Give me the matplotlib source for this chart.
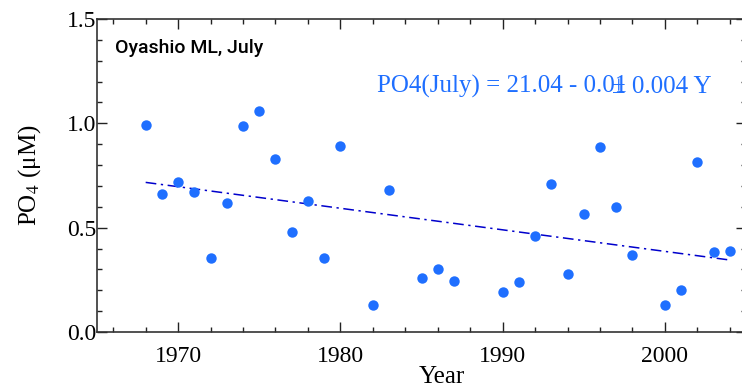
import matplotlib
matplotlib.use("Agg")
import matplotlib.pyplot as plt
from matplotlib.ticker import MultipleLocator

# Oyashio mixed layer PO4, July
years = [1968, 1969, 1970, 1971, 1972, 1973, 1974, 1975, 1976, 1977, 1978, 1979,
         1980, 1982, 1983, 1985, 1986, 1987, 1990, 1991, 1992, 1993, 1994, 1995,
         1996, 1997, 1998, 2000, 2001, 2002, 2003, 2004]
po4 = [0.99, 0.66, 0.72, 0.67, 0.355, 0.62, 0.985, 1.06, 0.83, 0.48, 0.63, 0.355,
       0.89, 0.13, 0.68, 0.26, 0.30, 0.245, 0.19, 0.24, 0.46, 0.71, 0.28, 0.565,
       0.885, 0.60, 0.37, 0.128, 0.20, 0.815, 0.383, 0.39]

# fitted trend end points
trend_years = [1968, 2004]
trend_vals = [0.717, 0.345]

dot_color = '#1f6fff'
line_color = '#0000cc'

plt.rcParams['font.family'] = ['Liberation Serif', 'DejaVu Serif']
plt.rcParams['mathtext.fontset'] = 'stix'

fig = plt.figure(figsize=(7.42, 3.89), dpi=100)
ax = fig.add_axes([97 / 742, 1 - 332 / 389, 649 / 742, 313 / 389])

ax.plot(trend_years, trend_vals, color=line_color, lw=1.1, ls='-.', dashes=(7, 3, 1.5, 3))
ax.plot(years, po4, 'o', color=dot_color, markersize=7.5, markeredgewidth=0)

ax.set_xlim(1965, 2005)
ax.set_ylim(0, 1.5)
ax.xaxis.set_major_locator(MultipleLocator(10))
ax.xaxis.set_minor_locator(MultipleLocator(2))
ax.yaxis.set_major_locator(MultipleLocator(0.5))
ax.yaxis.set_minor_locator(MultipleLocator(0.1))
ax.yaxis.set_major_formatter(lambda v, p: f'{v:.1f}')

ax.tick_params(which='both', direction='in', top=True, right=True,
               width=1, color='#222222', labelsize=17)
ax.tick_params(which='major', length=7)
ax.tick_params(which='minor', length=3.5)
ax.tick_params(axis='x', which='major', pad=10)
ax.tick_params(axis='y', which='major', pad=0.5)
for s in ax.spines.values():
    s.set_color('#333333')
    s.set_linewidth(1.2)

ax.set_xlabel('Year', fontsize=18)
ax.xaxis.set_label_coords(0.5316, -0.108)
ax.set_ylabel('PO$_4$ (μM)', fontsize=18)
ax.yaxis.set_label_coords(-0.083, 0.5)

ax.text(0.028, 0.891, 'Oyashio ML, July', transform=ax.transAxes,
        fontsize=14, family=['Roboto', 'DejaVu Sans'], fontweight='medium',
        va='baseline')

# equation label (overlapping as in the original)
ax.text(0.431, 0.764, 'PO4(July) = 21.04 - 0.01', transform=ax.transAxes,
        fontsize=18, color=dot_color, va='baseline', ha='left')
ax.text(0.947, 0.764, '± 0.004 Y', transform=ax.transAxes,
        fontsize=18, color=dot_color, va='baseline', ha='right')

fig.savefig('out.png', dpi=100)
